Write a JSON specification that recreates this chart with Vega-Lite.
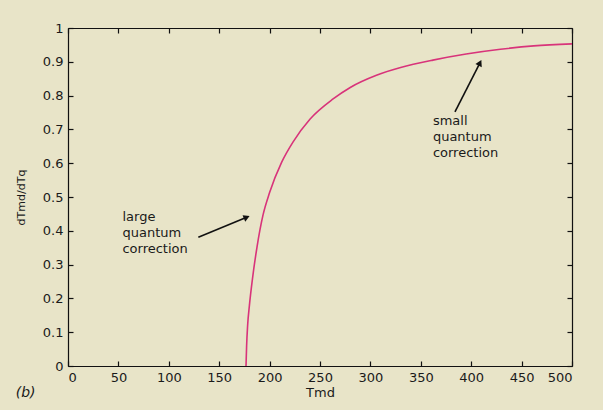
{
  "$schema": "https://vega.github.io/schema/vega-lite/v6.json",
  "width": 504,
  "height": 338,
  "autosize": "none",
  "padding": {"left": 68, "top": 28, "right": 31, "bottom": 44},
  "background": "#e8e4c8",
  "config": {
    "view": {"stroke": null},
    "font": "DejaVu Sans",
    "axis": {
      "domainColor": "#111",
      "domainWidth": 1.2,
      "tickColor": "#111",
      "tickWidth": 1.2,
      "tickSize": -5,
      "grid": false,
      "labelFont": "DejaVu Sans",
      "labelFontSize": 13,
      "labelColor": "#1a1a1a",
      "titleFont": "DejaVu Sans",
      "titleFontWeight": "normal",
      "titleColor": "#1a1a1a"
    }
  },
  "datasets": {
    "curve": [
      {"T": 176.6, "v": 0},
      {"T": 177.2, "v": 0.06},
      {"T": 178.2, "v": 0.12},
      {"T": 180, "v": 0.18},
      {"T": 183, "v": 0.258},
      {"T": 187.5, "v": 0.352},
      {"T": 193.5, "v": 0.447},
      {"T": 200, "v": 0.513},
      {"T": 212, "v": 0.603},
      {"T": 223.5, "v": 0.664},
      {"T": 240, "v": 0.73},
      {"T": 263, "v": 0.79},
      {"T": 280, "v": 0.824},
      {"T": 306, "v": 0.86},
      {"T": 330, "v": 0.883},
      {"T": 362, "v": 0.905},
      {"T": 395, "v": 0.923},
      {"T": 429, "v": 0.937},
      {"T": 462, "v": 0.947},
      {"T": 500, "v": 0.953}
    ],
    "arrows": [
      {"x1": 129.3, "y1": 0.381, "x2": 177.3, "y2": 0.44, "ang": 67.5},
      {"x1": 383.9, "y1": 0.752, "x2": 408.7, "y2": 0.897, "ang": 27}
    ],
    "notes": [
      {"x": 54, "y": 0.459, "label": "large\nquantum\ncorrection"},
      {"x": 362, "y": 0.743, "label": "small\nquantum\ncorrection"}
    ],
    "panel": [
      {"x": -42, "y": -0.08, "label": "(b)"}
    ]
  },
  "layer": [
    {
      "data": {"name": "curve"},
      "mark": {"type": "line", "color": "#d8337a", "strokeWidth": 1.6, "interpolate": "monotone"},
      "encoding": {
        "x": {
          "field": "T", "type": "quantitative",
          "scale": {"domain": [0, 500], "nice": false, "zero": false},
          "axis": {"orient": "bottom", "values": [0,50,100,150,200,250,300,350,400,450,500], "labelPadding": 10, "title": "Tmd", "titleFontSize": 13, "titlePadding": 2}
        },
        "y": {
          "field": "v", "type": "quantitative",
          "scale": {"domain": [0, 1], "nice": false},
          "axis": {"orient": "left", "values": [0,0.1,0.2,0.3,0.4,0.5,0.6,0.7,0.8,0.9,1], "format": "~g", "labelPadding": 10, "title": "dTmd/dTq", "titleFontSize": 11, "titlePadding": 16}
        }
      }
    },
    {
      "data": {"name": "arrows"},
      "mark": {"type": "rule", "color": "#111", "strokeWidth": 1.6},
      "encoding": {
        "x": {"field": "x1", "type": "quantitative", "axis": {"orient": "top", "values": [0,50,100,150,200,250,300,350,400,450,500], "labels": false, "title": null}},
        "y": {"field": "y1", "type": "quantitative", "axis": {"orient": "right", "values": [0,0.1,0.2,0.3,0.4,0.5,0.6,0.7,0.8,0.9,1], "labels": false, "title": null}},
        "x2": {"field": "x2"},
        "y2": {"field": "y2"}
      }
    },
    {
      "data": {"name": "arrows"},
      "mark": {"type": "point", "shape": "triangle-up", "filled": true, "color": "#111", "size": 50, "opacity": 1},
      "encoding": {
        "x": {"field": "x2", "type": "quantitative", "axis": null},
        "y": {"field": "y2", "type": "quantitative", "axis": null},
        "angle": {"field": "ang", "type": "quantitative", "scale": null}
      }
    },
    {
      "data": {"name": "notes"},
      "mark": {"type": "text", "align": "left", "baseline": "top", "fontSize": 13, "lineHeight": 16, "lineBreak": "\n", "color": "#1a1a1a"},
      "encoding": {
        "x": {"field": "x", "type": "quantitative", "axis": null},
        "y": {"field": "y", "type": "quantitative", "axis": null},
        "text": {"field": "label"}
      }
    },
    {
      "data": {"name": "panel"},
      "mark": {"type": "text", "align": "center", "baseline": "middle", "fontSize": 14, "fontStyle": "italic", "color": "#1a1a1a"},
      "encoding": {
        "x": {"field": "x", "type": "quantitative", "axis": null},
        "y": {"field": "y", "type": "quantitative", "axis": null},
        "text": {"field": "label"}
      }
    }
  ],
  "resolve": {"axis": {"x": "independent", "y": "independent"}}
}
